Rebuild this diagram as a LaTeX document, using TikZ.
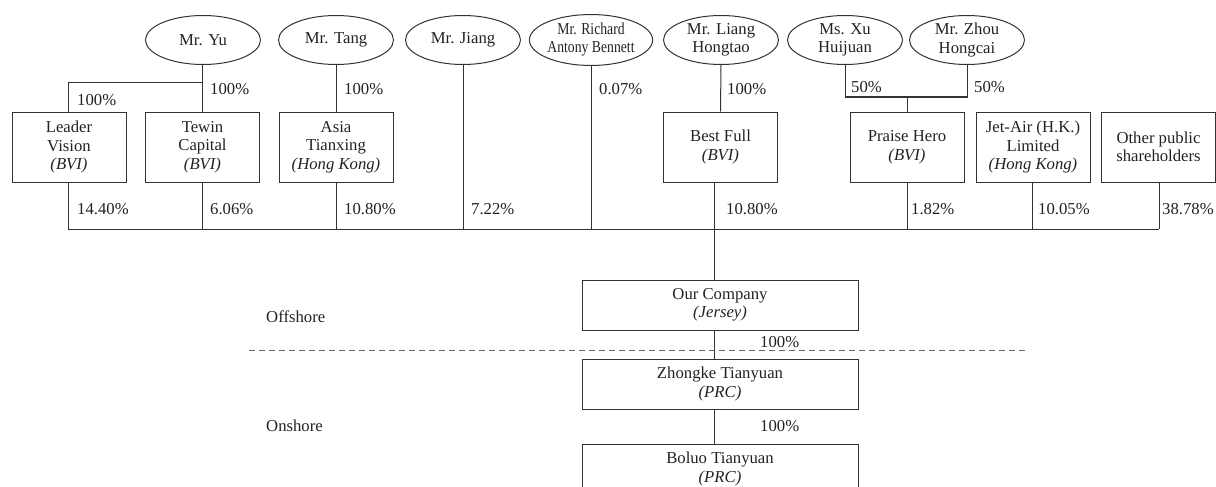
\documentclass[tikz,border=0pt]{standalone}
\usepackage{fontspec}
\setmainfont{Liberation Serif}
\usetikzlibrary{shapes.geometric,calc}
\definecolor{ln}{HTML}{333333}
\definecolor{txt}{HTML}{222222}
\definecolor{dsh}{HTML}{666666}
\begin{document}
\begin{tikzpicture}[x=1pt,y=-1pt,
  every node/.style={font=\fontsize{16.7pt}{18.5pt}\selectfont, text=txt},
  person/.style={ellipse,draw=ln,line width=1pt,minimum width=115pt,minimum height=49pt,inner sep=0pt,align=center},
  entity/.style={rectangle,draw=ln,line width=1pt,minimum width=114pt,minimum height=70pt,inner sep=0pt,align=center},
  bigbox/.style={rectangle,draw=ln,line width=1pt,minimum width=276pt,minimum height=50pt,inner sep=0pt,align=center},
  pct/.style={anchor=west,inner sep=0pt},
  conn/.style={draw=ln,line width=1pt}]
\useasboundingbox (0,0) rectangle (1216,487);
% persons
\node[person] (yu) at (203,40) {Mr. Yu};
\node[person] (ta) at (336,40) {Mr. Tang};
\node[person] (ji) at (463,40) {Mr. Jiang};
\node[person] (be) at (591,40) {\scalebox{0.82}[1]{\begin{tabular}{@{}c@{}}Mr. Richard\\[-1pt]Antony Bennett\end{tabular}}};
\node[person] (li) at (721,40) {Mr. Liang\\Hongtao};
\node[person] (xu) at (845,40) {Ms. Xu\\Huijuan};
\node[person] (zh) at (967,40) {Mr. Zhou\\Hongcai};
% entities
\node[entity] (lv) at (69,147) {Leader\\Vision\\\textit{(BVI)}};
\node[entity] (tw) at (202.5,147) {Tewin\\Capital\\\textit{(BVI)}};
\node[entity] (at) at (336,147) {Asia\\Tianxing\\\textit{(Hong Kong)}};
\node[entity] (bf) at (720.5,147) {Best Full\\\textit{(BVI)}};
\node[entity] (ph) at (907,147) {Praise Hero\\\textit{(BVI)}};
\node[entity] (ja) at (1033,147) {Jet-Air (H.K.)\\Limited\\\textit{(Hong Kong)}};
\node[entity] (op) at (1158.5,147) {Other public\\shareholders};
% lower chain
\node[bigbox] (ours) at (720,305) {Our Company\\\textit{(Jersey)}};
\node[bigbox] (zk) at (720,384) {Zhongke Tianyuan\\\textit{(PRC)}};
\node[bigbox] (bl) at (720,469) {Boluo Tianyuan\\\textit{(PRC)}};
% coordinates
\coordinate (yuj) at (202,83);
\coordinate (xzj) at (907,97);
\coordinate (busL) at (68,229);
\coordinate (busR) at (1159,229);
\coordinate (trunk) at (714,229);
\coordinate (dL) at (249,350);
\coordinate (dR) at (1027,350);
% connectors top
\draw[conn] (yu.south -| yuj) -- (tw.north -| yuj);
\draw[conn] (yuj) -| (lv.north -| busL);
\draw[conn] (ta.south) -- (at.north);
\draw[conn] (li.south) -- (bf.north);
\draw[conn] (xu.south) |- (xzj) -| (zh.south);
\draw[conn] (xzj) -- (ph.north);
% connectors to bus
\draw[conn] (lv.south -| busL) -- (busL);
\draw[conn] (tw.south -| yuj) -- (busL -| yuj);
\draw[conn] (at.south) -- (at.south |- busL);
\draw[conn] (ji.south) -- (ji.south |- busL);
\draw[conn] (be.south) -- (be.south |- busL);
\draw[conn] (ph.south) -- (ph.south |- busL);
\draw[conn] ($(ja.south)+(-1,0)$) -- ($(ja.south |- busL)+(-1,0)$);
\draw[conn] (op.south -| busR) -- (busR);
\draw[conn] (busL) -- (busR);
\draw[conn] (bf.south -| trunk) -- (ours.north -| trunk);
\draw[conn] (ours.south -| trunk) -- (zk.north -| trunk);
\draw[conn] (zk.south -| trunk) -- (bl.north -| trunk);
\draw[draw=dsh,line width=1pt,dash pattern=on 6pt off 4pt] (dL) -- (dR);
% percentages
\node[pct] (p1) at (210,89) {100\%};
\node[pct] (p2) at (77,100) {100\%};
\node[pct] (p3) at (344,89) {100\%};
\node[pct] (p4) at (599,89) {0.07\%};
\node[pct] (p5) at (727,89) {100\%};
\node[pct] (p6) at (851,87) {50\%};
\node[pct] (p7) at (974,87) {50\%};
\node[pct] (q1) at (77,209) {14.40\%};
\node[pct] (q2) at (210,209) {6.06\%};
\node[pct] (q3) at (344,209) {10.80\%};
\node[pct] (q4) at (471,209) {7.22\%};
\node[pct] (q5) at (726,209) {10.80\%};
\node[pct] (q6) at (911,209) {1.82\%};
\node[pct] (q7) at (1038,209) {10.05\%};
\node[pct] (q8) at (1162,209) {38.78\%};
\node[pct] (r1) at (760,342) {100\%};
\node[pct] (r2) at (760,426) {100\%};
\node[pct] (off) at (266,317) {Offshore};
\node[pct] (on) at (266,426) {Onshore};
\end{tikzpicture}
\end{document}
